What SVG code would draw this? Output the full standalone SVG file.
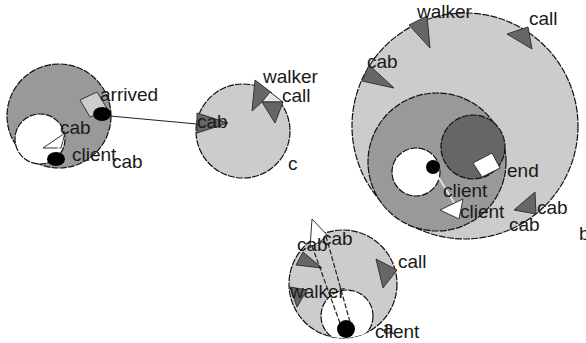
<svg xmlns="http://www.w3.org/2000/svg" width="586" height="343" viewBox="0 0 586 343">
<style>
.c{stroke:#111;stroke-width:1.2;stroke-dasharray:7 1.2}
.lg{fill:#cccccc}.mg{fill:#999999}.dg{fill:#666666}.wh{fill:#ffffff}.bk{fill:#000000}
.tri{stroke:#333;stroke-width:1}
.t{font-family:"Liberation Sans",Arial,sans-serif;font-size:19px;fill:#1a1a1a}
.ln{stroke:#222;stroke-width:1.2;fill:none}
</style>
<defs>
<clipPath id="clipA"><circle cx="343" cy="284" r="54"/></clipPath>
</defs>
<rect width="586" height="343" fill="#ffffff"/>

<g id="node-left">
<circle class="c mg" cx="59" cy="116" r="52"/>
<circle class="c wh" cx="40" cy="139" r="25"/>
<polygon class="tri" fill="#cccccc" points="80,100 97,92 108,110 90,117"/>
<ellipse class="bk" cx="102" cy="114" rx="9" ry="7"/>
<polygon class="tri wh" points="65,133 43,148 61,148"/>
<line x1="62" y1="140" x2="55" y2="156" stroke="#fff" stroke-width="1.5"/>
<ellipse class="bk" cx="56" cy="159" rx="9" ry="7"/>
<text class="t" x="100" y="101">arrived</text>
<text class="t" x="60" y="134">cab</text>
<text class="t" x="72" y="161">client</text>
<text class="t" x="112" y="168">cab</text>
</g>

<g id="node-c">
<circle class="c lg" cx="243" cy="131" r="47"/>
<polygon class="tri dg" points="197,113 228,123 197,133"/>
<polygon class="tri dg" points="255,80 272,93 252,111"/>
<polygon class="tri" fill="#e6e6e6" points="262,102 283,102 270,92"/>
<polygon class="tri dg" points="262,102 283,102 275,123"/>
<text class="t" x="197" y="128">cab</text>
<text class="t" x="263" y="83">walker</text>
<text class="t" x="282" y="102">call</text>
<text class="t" x="288" y="170">c</text>
</g>

<g id="node-b">
<circle class="c lg" cx="465" cy="126" r="113"/>
<circle class="c mg" cx="437" cy="162" r="69"/>
<circle class="c dg" cx="473" cy="147" r="32"/>
<circle class="c wh" cx="416" cy="172" r="24"/>
<polygon class="tri wh" points="473,163 492,153 500,168 482,177"/>
<line x1="433" y1="168" x2="456" y2="206" stroke="#eee" stroke-width="1.5"/>
<circle class="bk" cx="433" cy="167" r="7"/>
<polygon class="tri wh" points="440,210 463,199 459,219"/>
<polygon class="tri dg" points="409,25 427,16 430,48"/>
<polygon class="tri dg" points="507,34 528,27 532,49"/>
<polygon class="tri dg" points="362,81 369,65 394,88"/>
<polygon class="tri dg" points="514,210 535,192 536,214"/>
<text class="t" x="417" y="18">walker</text>
<text class="t" x="529" y="25">call</text>
<text class="t" x="367" y="68">cab</text>
<text class="t" x="507" y="177">end</text>
<text class="t" x="443" y="197">client</text>
<text class="t" x="460" y="218">client</text>
<text class="t" x="537" y="214">cab</text>
<text class="t" x="509" y="231">cab</text>
<text class="t" x="579" y="240">b</text>
</g>

<g id="node-a">
<circle class="c lg" cx="343" cy="284" r="54"/>
<circle class="c wh" cx="347" cy="316" r="26" clip-path="url(#clipA)"/>
<polygon class="tri dg" points="296,265 303,252 322,268"/>
<polygon class="tri dg" points="376,259 397,270 383,288"/>
<polygon class="tri dg" points="290,287 307,290 297,307"/>
<line class="ln" x1="312" y1="246" x2="341" y2="326" stroke-dasharray="5 2"/>
<line class="ln" x1="326" y1="236" x2="350" y2="322" stroke-dasharray="5 2"/>
<polygon class="tri wh" points="312,219 328,236 310,248"/>
<circle class="bk" cx="346" cy="329" r="9"/>
<text class="t" x="297" y="251">cab</text>
<text class="t" x="322" y="245">cab</text>
<text class="t" x="398" y="268">call</text>
<text class="t" x="290" y="298">walker</text>
<text class="t" x="375" y="338">client</text>
<text class="t" x="383" y="334">a</text>
</g>

<g id="connectors">
<line class="ln" x1="110" y1="116" x2="197" y2="124"/>
</g>
</svg>
